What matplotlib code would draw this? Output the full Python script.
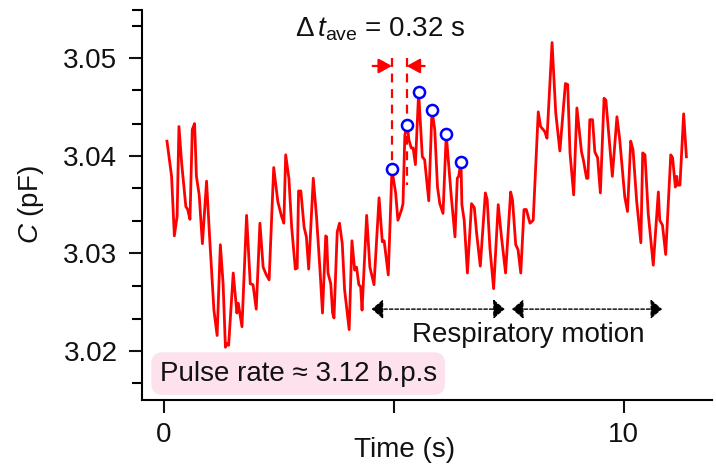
import matplotlib
matplotlib.use("Agg")
import matplotlib.pyplot as plt
from matplotlib.ticker import FixedLocator

plt.rcParams['font.family'] = ['Liberation Sans', 'DejaVu Sans']
plt.rcParams['mathtext.fontset'] = 'custom'
plt.rcParams['mathtext.rm'] = 'Liberation Sans'
plt.rcParams['mathtext.it'] = 'Liberation Sans:italic'

# ---- data ----
time_s = [0.07, 0.17, 0.23, 0.29, 0.33, 0.39, 0.48, 0.52, 0.57, 0.62, 0.67, 0.71, 0.77, 0.84, 0.93,
          1.00, 1.09, 1.16, 1.23, 1.29, 1.34, 1.38, 1.41, 1.51, 1.59, 1.62, 1.70, 1.80, 1.88, 1.94,
          2.01, 2.09, 2.16, 2.23, 2.29, 2.39, 2.48, 2.56, 2.61, 2.65, 2.72, 2.78, 2.86, 2.90, 2.93,
          2.98, 3.05, 3.10, 3.15, 3.25, 3.32, 3.40, 3.45, 3.52, 3.54, 3.57, 3.63, 3.67, 3.70, 3.77,
          3.82, 3.88, 3.93, 4.03, 4.09, 4.15, 4.19, 4.24, 4.28, 4.31, 4.41, 4.48, 4.57, 4.68, 4.75,
          4.79, 4.88, 4.96, 5.04, 5.09, 5.17, 5.20, 5.24, 5.29, 5.33, 5.38, 5.42, 5.47, 5.54, 5.62,
          5.67, 5.76, 5.83, 5.89, 5.95, 6.00, 6.07, 6.14, 6.25, 6.33, 6.38, 6.41, 6.46, 6.48, 6.53,
          6.60, 6.69, 6.75, 6.80, 6.88, 6.99, 7.03, 7.09, 7.17, 7.27, 7.34, 7.43, 7.54, 7.58, 7.65,
          7.70, 7.76, 7.83, 7.88, 7.96, 8.03, 8.14, 8.19, 8.28, 8.33, 8.44, 8.52, 8.61, 8.73, 8.78,
          8.83, 8.91, 8.98, 9.08, 9.12, 9.19, 9.22, 9.26, 9.32, 9.37, 9.43, 9.49, 9.57, 9.61, 9.75,
          9.85, 9.91, 10.02, 10.08, 10.15, 10.20, 10.28, 10.37, 10.41, 10.46, 10.53, 10.64, 10.75,
          10.78, 10.84, 10.91, 11.02, 11.06, 11.12, 11.15, 11.17, 11.22, 11.30, 11.36]
capacitance_pF = [3.0415, 3.0379, 3.0318, 3.0338, 3.0430, 3.0392, 3.0348, 3.0345, 3.0335, 3.0427,
                  3.0433, 3.0379, 3.0360, 3.0310, 3.0374, 3.0314, 3.0242, 3.0216, 3.0309, 3.0269,
                  3.0204, 3.0208, 3.0206, 3.0280, 3.0239, 3.0249, 3.0225, 3.0339, 3.0269, 3.0268,
                  3.0243, 3.0331, 3.0286, 3.0278, 3.0273, 3.0388, 3.0353, 3.0338, 3.0331, 3.0401,
                  3.0377, 3.0327, 3.0284, 3.0285, 3.0364, 3.0364, 3.0327, 3.0317, 3.0284, 3.0377,
                  3.0338, 3.0280, 3.0239, 3.0318, 3.0317, 3.0280, 3.0269, 3.0239, 3.0234, 3.0322,
                  3.0331, 3.0310, 3.0263, 3.0222, 3.0313, 3.0283, 3.0286, 3.0268, 3.0266, 3.0242,
                  3.0339, 3.0286, 3.0268, 3.0357, 3.0312, 3.0313, 3.0278, 3.0386, 3.0362, 3.0334,
                  3.0345, 3.0351, 3.0421, 3.0432, 3.0416, 3.0408, 3.0408, 3.0391, 3.0465, 3.0399,
                  3.0396, 3.0354, 3.0447, 3.0427, 3.0368, 3.0351, 3.0341, 3.0422, 3.0358, 3.0317,
                  3.0377, 3.0379, 3.0394, 3.0350, 3.0334, 3.0280, 3.0351, 3.0347, 3.0321, 3.0287,
                  3.0362, 3.0355, 3.0305, 3.0264, 3.0350, 3.0317, 3.0280, 3.0363, 3.0355, 3.0309,
                  3.0304, 3.0280, 3.0345, 3.0345, 3.0331, 3.0334, 3.0445, 3.0430, 3.0425, 3.0418,
                  3.0516, 3.0444, 3.0405, 3.0474, 3.0473, 3.0403, 3.0360, 3.0449, 3.0404, 3.0396,
                  3.0377, 3.0377, 3.0437, 3.0437, 3.0404, 3.0398, 3.0362, 3.0459, 3.0457, 3.0379,
                  3.0440, 3.0417, 3.0358, 3.0343, 3.0415, 3.0406, 3.0353, 3.0311, 3.0403, 3.0401,
                  3.0341, 3.0288, 3.0363, 3.0334, 3.0329, 3.0299, 3.0401, 3.0398, 3.0368, 3.0379,
                  3.0370, 3.0370, 3.0443, 3.0399]

peak_time_s = [4.96, 5.29, 5.54, 5.83, 6.14, 6.46]
peak_capacitance_pF = [3.0386, 3.0432, 3.0465, 3.0447, 3.0422, 3.0394]

interval_start_s = 4.96
interval_end_s = 5.28
respiratory_spans_s = [(4.52, 7.41), (7.57, 10.83)]

x_ticks = [0, 5, 10]
x_tick_labels = ['0', '', '10']
y_ticks = [3.02, 3.03, 3.04, 3.05]
y_tick_labels = ['3.02', '3.03', '3.04', '3.05']

FS = 20
TXT = '#111111'
RED = '#ff0000'

fig = plt.figure(figsize=(7.16, 4.68), dpi=100)
ax = fig.add_axes([0.198, 0.145, 0.796, 0.834])

ax.plot(time_s, capacitance_pF, color=RED, lw=2.0, zorder=3)
ax.plot(peak_time_s, peak_capacitance_pF, ls='none', marker='o', ms=8,
        mfc='white', mec='#0000ff', mew=1.8, zorder=4)

# dashed markers of the interval
ax.plot([interval_start_s, interval_start_s], [3.0500, peak_capacitance_pF[0]],
        color=RED, lw=1.6, ls=(0, (4, 3)), zorder=2)
ax.plot([interval_end_s, interval_end_s], [3.0500, 3.0370],
        color=RED, lw=1.6, ls=(0, (4, 3)), zorder=2)
y_arrow = 3.0492
ax.annotate('', xy=(interval_start_s, y_arrow), xytext=(interval_start_s - 0.42, y_arrow),
            arrowprops=dict(arrowstyle='-|>,head_length=0.4,head_width=0.22', color=RED,
                            lw=1.6, shrinkA=0, shrinkB=0, mutation_scale=20))
ax.annotate('', xy=(interval_end_s, y_arrow), xytext=(interval_end_s + 0.39, y_arrow),
            arrowprops=dict(arrowstyle='-|>,head_length=0.4,head_width=0.22', color=RED,
                            lw=1.6, shrinkA=0, shrinkB=0, mutation_scale=20))
ax.text(4.70, 3.0530, r'$\Delta\,t_{\rm ave}$ = 0.32 s', fontsize=FS, ha='center', va='center',
        color=TXT)

# respiratory motion arrows
y_resp = 3.0243
for a, b in respiratory_spans_s:
    ax.annotate('', xy=(b, y_resp), xytext=(a, y_resp),
                arrowprops=dict(arrowstyle='<|-|>,head_length=0.35,head_width=0.3', color='black',
                                lw=1.0, ls=(0, (2.5, 1.5)), shrinkA=0, shrinkB=0,
                                mutation_scale=20))
ax.text(7.92, 3.0216, 'Respiratory motion', fontsize=FS, ha='center', va='center', color=TXT)

# pulse rate box
ax.text(-0.09, 3.0177, 'Pulse rate \u2248 3.12 b.p.s', fontsize=FS, ha='left', va='center',
        color=TXT, zorder=5,
        bbox=dict(boxstyle='round,pad=0.3,rounding_size=0.4', fc='#fde2ee', ec='none'))

ax.set_xlim(-0.478, 11.91)
ax.set_ylim(3.01498, 3.05495)
ax.set_xticks(x_ticks)
ax.set_xticklabels(x_tick_labels)
ax.set_yticks(y_ticks)
ax.set_yticklabels(y_tick_labels)
ax.yaxis.set_minor_locator(FixedLocator([3.0167, 3.0233, 3.0267, 3.0333, 3.0367,
                                         3.0433, 3.0467, 3.0533, 3.0549]))
for s in ['top', 'right']:
    ax.spines[s].set_visible(False)
for s in ['left', 'bottom']:
    ax.spines[s].set_linewidth(1.5)
ax.tick_params(axis='both', which='major', direction='out', length=9.5, width=1.5,
               labelsize=FS, colors=TXT, pad=8)
ax.tick_params(axis='y', which='minor', direction='out', length=7, width=1.5)
ax.tick_params(axis='x', pad=6)

ax.set_xlabel('Time (s)', fontsize=FS, color=TXT)
ax.xaxis.set_label_coords(0.461, -0.095)
ax.set_ylabel(r'$C$ (pF)', fontsize=FS, color=TXT)
ax.yaxis.set_label_coords(-0.168, 0.5)

fig.savefig('out.png', dpi=100)
